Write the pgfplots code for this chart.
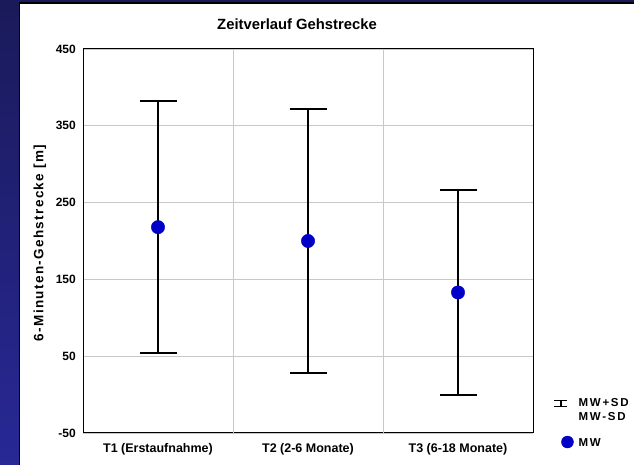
\documentclass[border=0pt]{standalone}
\usepackage{fontspec}
\setmainfont{Liberation Sans}
\newfontfamily\ylfont{Liberation Sans}[LetterSpace=10]
\newfontfamily\lgfont{Liberation Sans}[LetterSpace=15]
\usepackage{pgfplots}
\pgfplotsset{compat=1.18}
\definecolor{mwblue}{RGB}{0,0,200}
\definecolor{gridgray}{RGB}{200,200,200}
\definecolor{navytop}{RGB}{26,26,90}
\definecolor{navybot}{RGB}{40,40,150}
\begin{document}
\begin{tikzpicture}[x=1pt,y=1pt]
\useasboundingbox (0,0) rectangle (634,465);
\shade[top color=navytop,bottom color=navybot] (0,0) rectangle (634,465);
\fill[white] (20,0) rectangle (634,461.5);
\draw[black,line width=1.2pt] (19.6,0) -- (19.6,461.9) -- (634,461.9);
\begin{axis}[
  at={(83pt,32pt)}, anchor=south west, scale only axis, width=450pt, height=384pt,
  xmin=-0.5, xmax=2.5, ymin=-50, ymax=450,
  xtick={0,1,2},
  xticklabels={T1 (Erstaufnahme),T2 (2-6 Monate),T3 (6-18 Monate)},
  extra x ticks={0.5,1.5}, extra x tick labels={},
  extra x tick style={grid=major, major tick length=0pt},
  ytick={-50,50,...,450}, ymajorgrids,
  major tick length=0pt,
  grid style={gridgray, line width=0.9pt},
  axis line style={black, line width=1pt},
  tick label style={font=\bfseries\fontsize{12}{14}\selectfont},
  /pgf/number format/assume math mode=true,
  yticklabel style={inner sep=0pt, xshift=-7pt},
  xticklabel style={anchor=base, inner sep=0pt, yshift=-20pt, font=\bfseries\fontsize{12.5}{14}\selectfont},
  title={Zeitverlauf Gehstrecke},
  title style={font=\bfseries\fontsize{14.8}{16}\selectfont, at={(axis description cs:0.4756,1.0339)}, anchor=base, inner sep=0pt},
  ylabel={6-Minuten-Gehstrecke [m]},
  ylabel style={font=\ylfont\bfseries\fontsize{13.5}{15}\selectfont, at={(axis description cs:-0.0956,0.4948)}, anchor=center, inner sep=0pt},
  clip=false,
  legend style={at={(axis description cs:1.0456,0.0898)}, anchor=north west, draw=none, fill=none,
    font=\lgfont\bfseries\fontsize{11.5}{13}\selectfont, inner sep=0pt, row sep=4pt, column sep=5pt,
    nodes={inner sep=0pt}},
  legend cell align=left,
]
\addplot[only marks, mark=*, mark size=6.7pt, mark options={fill=mwblue, draw=mwblue}, forget plot,
  error bars/.cd, y dir=both, y explicit,
  error bar style={black, line width=2pt},
  error mark options={black, line width=2pt, mark size=18.5pt, rotate=90}]
  coordinates {(0,218) +- (0,164) (1,200) +- (0,171.5) (2,133) +- (0,133)};
\addlegendimage{legend image code/.code={
  \draw[black, line width=1.5pt] (0pt,-3pt) -- (0pt,3pt);
  \draw[black, line width=1.5pt] (-6.5pt,3pt) -- (6.5pt,3pt) (-6.5pt,-3pt) -- (6.5pt,-3pt);}}
\addlegendentry{MW+SD}
\addlegendimage{empty legend}
\addlegendentry{MW-SD}
\addlegendimage{legend image code/.code={\fill[mwblue] (6.5pt,-5pt) circle (6pt);}}
\addlegendentry{\rule{0pt}{21pt}MW}
\end{axis}
\end{tikzpicture}
\end{document}
